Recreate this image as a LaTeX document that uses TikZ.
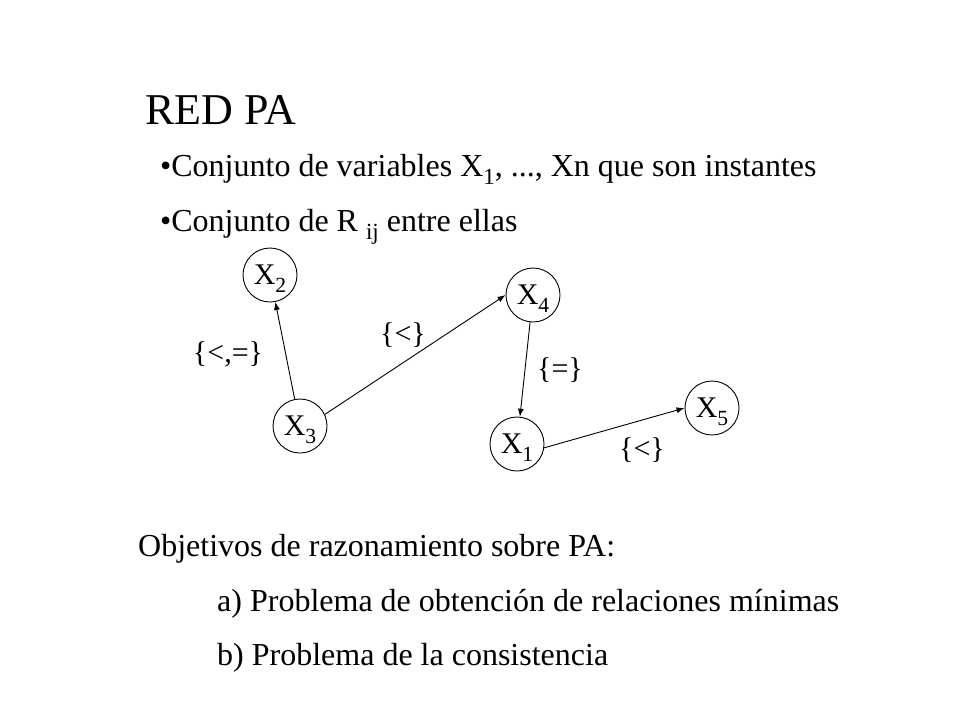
\documentclass[tikz,border=0pt]{standalone}
\usepackage{fontspec}
\setmainfont{Liberation Serif}
\usetikzlibrary{shapes.geometric,arrows.meta}

% subindice bajo, como en la diapositiva
\newcommand{\subind}[1]{\smash{\raisebox{-0.27em}{\scalebox{0.72}{#1}}}}

\tikzset{
  var/.style={draw,circle,line width=0.9pt,minimum size=54pt,inner sep=0pt,
    font=\fontsize{30}{30}\selectfont},
  rel/.style={font=\fontsize{30}{32}\selectfont},
  txt/.style={anchor=base west,inner sep=0pt,font=\fontsize{32}{36}\selectfont},
  arr/.style={-{Latex[length=8pt,width=6pt]},line width=0.9pt}
}

\begin{document}
\begin{tikzpicture}[x=1pt,y=-1pt]
  % marco de la diapositiva, 960 x 720
  \useasboundingbox (0,0) rectangle (960,720);
  \node[txt,font=\fontsize{44}{48}\selectfont] (titulo) at (145,124) {RED PA};
  \node[txt] (punto1) at (160,176) {•Conjunto de variables X\subind{1}, ..., Xn que son instantes};
  \node[txt] (punto2) at (160,231) {•Conjunto de R \subind{ij} entre ellas};
  % los instantes
  \node[var] (x2) at (270,275) {X\subind{2}};
  \node[var] (x4) at (533,295) {X\subind{4}};
  \node[var] (x3) at (300,426) {X\subind{3}};
  \node[var] (x1) at (517,444) {X\subind{1}};
  \node[var] (x5) at (712,408) {X\subind{5}};
  % relaciones
  \draw[arr] (x3) -- (x2);
  \draw[arr] (x3.25) -- (x4.west);
  \draw[arr] (x4) -- (x1);
  \draw[arr] (x1.-8) -- (x5.west);
  \node[rel] (r32) at (228,354) {\{<,=\}};
  \node[rel] (r34) at (403,335) {\{<\}};
  \node[rel] (r41) at (560,370) {\{=\}};
  \node[rel] (r15) at (642,450) {\{<\}};
  % objetivos
  \node[txt] (obj) at (138,556) {Objetivos de razonamiento sobre PA:};
  \node[txt] (obja) at (217,611) {a) Problema de obtención de relaciones mínimas};
  \node[txt] (objb) at (217,665) {b) Problema de la consistencia};
\end{tikzpicture}
\end{document}
